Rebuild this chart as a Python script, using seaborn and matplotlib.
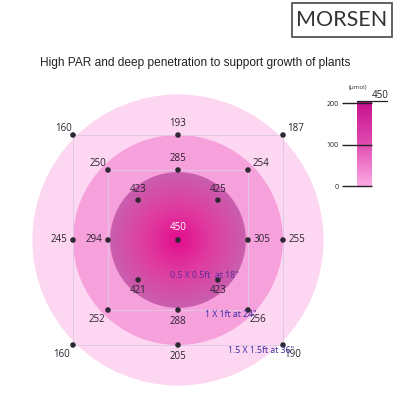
import numpy as np
import matplotlib.pyplot as plt
import seaborn as sns
from matplotlib.patches import Circle, Rectangle
from matplotlib.colors import LinearSegmentedColormap

# PAR readings (umol) at each sampling spot
values = [450, 423, 425, 421, 423,
          250, 285, 254, 294, 305, 252, 288, 256,
          160, 193, 187, 245, 255, 160, 205, 190]
# sampling grid offsets (units of half a 1 ft square)
xs = [0, -0.57, 0.57, -0.57, 0.57,
      -1, 0, 1, -1, 1, -1, 0, 1,
      -1.5, 0, 1.5, -1.5, 1.5, -1.5, 0, 1.5]
ys = [0, 0.57, 0.57, -0.57, -0.57,
      1, 1, 1, 0, 0, -1, -1, -1,
      1.5, 1.5, 1.5, 0, 0, -1.5, -1.5, -1.5]
# where each label sits relative to its dot
where = ['c', 'u', 'u', 'd', 'd',
         'ul', 'u', 'ur', 'l', 'r', 'dl', 'd', 'dr',
         'ul', 'u', 'ur', 'l', 'r', 'dl', 'd', 'dr']
areas = ['0.5 X 0.5ft  at 18"', '1 X 1ft at 24"', '1.5 X 1.5ft at 36"']
cbar_ticks = [0, 100, 200]

sns.set_style('white')
plt.rcParams['font.family'] = ['Open Sans', 'DejaVu Sans']

fig = plt.figure(figsize=(4, 4), dpi=100)
ax = fig.add_axes([0, 0, 1, 1])
ax.set_xlim(-178 / 70, 222 / 70)
ax.set_ylim(-160 / 70, 240 / 70)
ax.axis('off')

# light zones
ax.add_patch(Circle((0, 0), 2.08, color='#fdd6f2', lw=0, zorder=0))
ax.add_patch(Circle((0, 0), 1.5, color='#f6a0dc', lw=0, zorder=1))

# inner zone, radial gradient
g = np.linspace(-1, 1, 300)
gx, gy = np.meshgrid(g, g)
rr = np.sqrt(gx ** 2 + gy ** 2)
inner_cmap = LinearSegmentedColormap.from_list(
    'inner', ['#e20e8e', '#df3da0', '#c95fae'])
im = ax.imshow(rr, cmap=inner_cmap, vmin=0, vmax=1,
               extent=[-0.97, 0.97, -0.97, 0.97], zorder=2, origin='lower')
clip = Circle((0, 0), 0.97, transform=ax.transData)
im.set_clip_path(clip)

# measuring squares
for h in [1.0, 1.5]:
    ax.add_patch(Rectangle((-h, -h), 2 * h, 2 * h, fill=False,
                           ec='#dfc8e6', lw=0.7, zorder=3))

sns.scatterplot(x=xs, y=ys, ax=ax, color='#2e2833', s=16,
                edgecolor='none', zorder=5)

offs = {'c': (0, 5, 'center', 'bottom'),
        'u': (0, 4, 'center', 'bottom'),
        'd': (0, -4, 'center', 'top'),
        'l': (-4, 0, 'right', 'center'),
        'r': (4, 0, 'left', 'center'),
        'ul': (-1, 1, 'right', 'bottom'),
        'ur': (3, 1, 'left', 'bottom'),
        'dl': (-2, -3, 'right', 'top'),
        'dr': (1, -3, 'left', 'top')}
for x, y, v, w in zip(xs, ys, values, where):
    dx, dy, ha, va = offs[w]
    ax.annotate(str(v), (x, y), xytext=(dx, dy), textcoords='offset points',
                ha=ha, va=va, fontsize=7,
                color='white' if w == 'c' else '#2a2230', zorder=6)

# coverage area notes
ax.text(-0.11, -0.55, areas[0], fontsize=6.3, color='#5a2a9a', zorder=6)
ax.text(0.38, -1.1, areas[1], fontsize=6.3, color='#3b2aa0', zorder=6)
ax.text(0.71, -1.62, areas[2], fontsize=6.3, color='#3b2aa0', zorder=6)

# title and logo
fig.text(0.4875, 1 - 63 / 400,
         'High PAR and deep penetration to support growth of plants',
         ha='center', va='center', fontsize=8.6, family='Liberation Sans',
         color='#222222')
fig.patches.append(Rectangle((292 / 400, 1 - 37 / 400), 100 / 400, 34 / 400,
                             transform=fig.transFigure, fill=False,
                             ec='#555555', lw=1.3))
fig.text(342 / 400, 1 - 20.5 / 400, 'MORSEN', ha='center', va='center',
         fontsize=15.5, family='Lato', weight='normal', color='#333333')

# scale bar
cax = fig.add_axes([357 / 400, 1 - 186 / 400, 15 / 400, 85 / 400])
bar_cmap = LinearSegmentedColormap.from_list('bar', ['#fbaae5', '#e04aaf', '#c70f8d'])
cax.imshow(np.linspace(0, 1, 100).reshape(-1, 1), cmap=bar_cmap, aspect='auto',
           extent=[0, 1, 0, 205], origin='lower')
cax.set_xlim(0, 1)
cax.set_ylim(0, 205)
cax.set_xticks([])
cax.set_yticks(cbar_ticks)
cax.tick_params(axis='y', left=True, direction='inout', length=22, width=1,
                labelsize=5, pad=2, colors='#222222')
for s in cax.spines.values():
    s.set_visible(False)
cax.plot([0, 2], [205, 205], color='#222222', lw=0.9, clip_on=False)
fig.text(358 / 400, 1 - 87 / 400, '(μmol)', ha='center', va='center',
         fontsize=4.5, color='#333333')
fig.text(380 / 400, 1 - 96 / 400, '450', ha='center', va='center',
         fontsize=7, color='#222222')

fig.savefig('out.png', dpi=100)
